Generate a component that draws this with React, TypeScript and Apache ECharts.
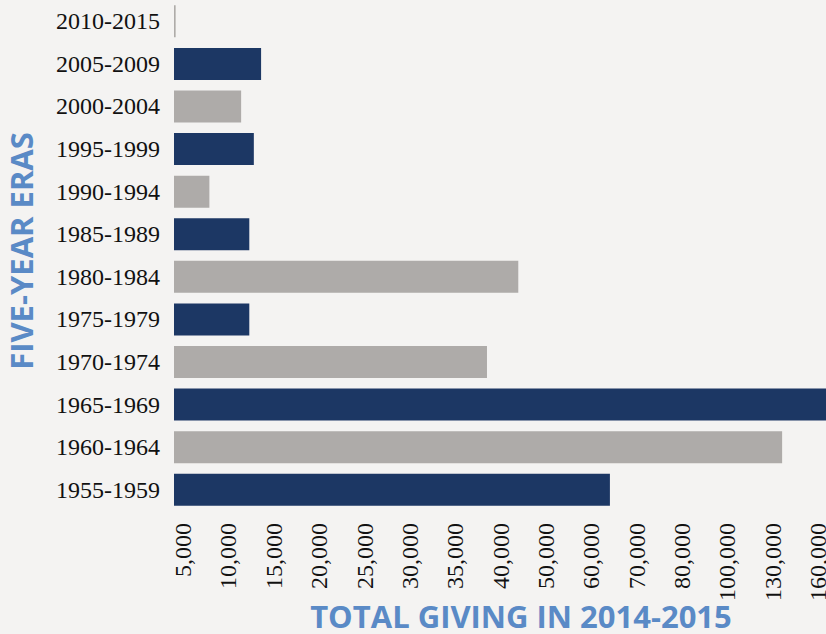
import React, { useEffect, useRef } from "react";
import * as echarts from "echarts";

// Categories, bottom to top
const eras = [
  "1955-1959", "1960-1964", "1965-1969", "1970-1974", "1975-1979", "1980-1984",
  "1985-1989", "1990-1994", "1995-1999", "2000-2004", "2005-2009", "2010-2015",
];
// Total giving per era
const giving = [
  64100, 136200, 175000, 38500, 12300, 43900,
  12300, 7900, 12800, 11400, 13600, 900,
];
// Tick labels of the (unevenly spaced) value axis
const tickValues = [
  5000, 10000, 15000, 20000, 25000, 30000, 35000, 40000,
  50000, 60000, 70000, 80000, 100000, 130000, 160000,
];
const tickLabels = tickValues.map((v) => v.toLocaleString("en-US"));

const NAVY = "#1C3764";
const GREY = "#AEABA9";
const TITLE = "#5A8AC6";
const BG = "#F4F3F2";

// Scale: evenly spaced ticks (STEP units apart); value 0 at position 0, first tick at FIRST_POS
const FIRST_POS = 1;
const STEP = 5;
function toPos(v: number): number {
  if (v <= tickValues[0]) return (v / tickValues[0]) * FIRST_POS;
  for (let i = 1; i < tickValues.length; i++) {
    if (v <= tickValues[i]) {
      return FIRST_POS + STEP * (i - 1 + (v - tickValues[i - 1]) / (tickValues[i] - tickValues[i - 1]));
    }
  }
  const n = tickValues.length - 1;
  return FIRST_POS + STEP * (n + (v - tickValues[n]) / (tickValues[n] - tickValues[n - 1]));
}

export default function App() {
  const ref = useRef<HTMLDivElement>(null);
  useEffect(() => {
    if (!ref.current) return;
    const chart = echarts.init(ref.current, null, { renderer: "svg" });
    const pxPerUnit = 45.36 / STEP;
    const maxUnits = 73;
    chart.setOption({
      animation: false,
      backgroundColor: BG,
      grid: {
        left: 174,
        top: 0,
        width: maxUnits * pxPerUnit,
        height: 511,
        containLabel: false,
        outerBoundsMode: "none",
      },
      xAxis: {
        type: "value",
        min: 0,
        max: maxUnits,
        interval: 1,
        axisLine: { show: false },
        axisTick: { show: false },
        splitLine: { show: false },
        axisLabel: {
          customValues: tickLabels.map((_, i) => FIRST_POS + STEP * i),
          formatter: (val: number) => tickLabels[Math.round((val - FIRST_POS) / STEP)] ?? "",
          rotate: 90,
          margin: 12,
          fontFamily: "Liberation Serif",
          fontSize: 24,
          color: "#111111",
          showMinLabel: true,
          showMaxLabel: true,
        },
      },
      yAxis: {
        type: "category",
        data: eras,
        axisLine: { show: false },
        axisTick: { show: false },
        axisLabel: {
          margin: 14,
          fontFamily: "Liberation Serif",
          fontSize: 24,
          color: "#111111",
        },
      },
      series: [
        {
          type: "bar",
          barWidth: 32,
          clip: true,
          data: giving.map((v, i) => ({
            value: toPos(v),
            itemStyle: { color: i % 2 === 0 ? NAVY : GREY },
          })),
        },
      ],
      graphic: [
        {
          type: "text",
          x: 521,
          y: 616,
          style: {
            text: "TOTAL GIVING IN 2014-2015",
            fontFamily: "Open Sans",
            fontWeight: "bold",
            fontSize: 31,
            fill: TITLE,
            align: "center",
            verticalAlign: "middle",
          },
        },
        {
          type: "text",
          x: 21,
          y: 251,
          rotation: Math.PI / 2,
          style: {
            text: "FIVE-YEAR ERAS",
            fontFamily: "Open Sans",
            fontWeight: "bold",
            fontSize: 31,
            fill: TITLE,
            align: "center",
            verticalAlign: "middle",
          },
        },
      ],
    });
    return () => chart.dispose();
  }, []);
  return (
    <div
      ref={ref}
      style={{ position: "absolute", left: 0, top: 0, width: 826, height: 634 }}
    />
  );
}
